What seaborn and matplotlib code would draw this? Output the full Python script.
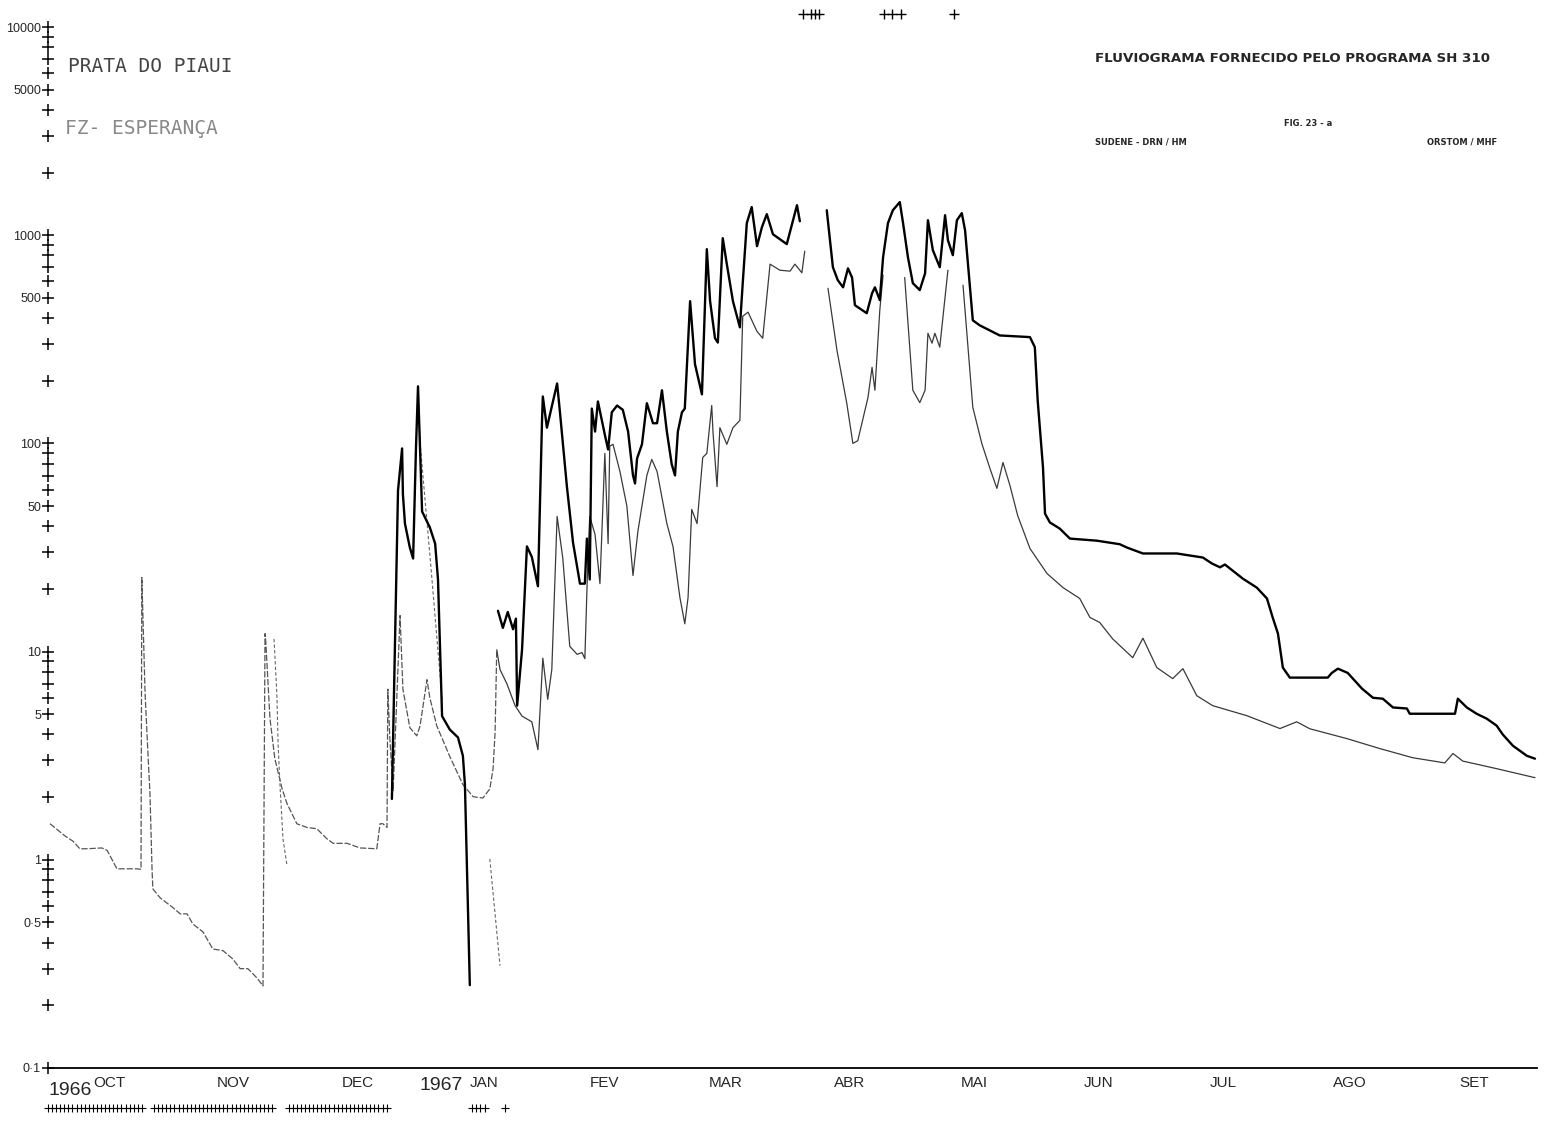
import numpy as np
import pandas as pd
import matplotlib
matplotlib.use('Agg')
import matplotlib.pyplot as plt
import matplotlib.transforms as mtransforms
from matplotlib.ticker import NullLocator
import seaborn as sns

# water year oct 1966 - sep 1967, x = day of the water year
months = ['OCT', 'NOV', 'DEC', 'JAN', 'FEV', 'MAR', 'ABR', 'MAI', 'JUN', 'JUL', 'AGO', 'SET']
month_len = [31, 30, 31, 31, 28, 31, 30, 31, 30, 31, 31, 30]

nan = np.nan

# upper (thick) curve, discharge m3/s, nan = break in the record
upper_day = [84.3, 85.8, 86.8, 87.0, 87.5, 88.7, 89.5, 90.2, 90.7, 91.7, 93.6, 94.9, 95.6, 96.6,
             98.5, 100.5, 101.7, 102.2, 103.4, nan,
             110.3, 111.5, 112.7, 114.0, 114.7, 115.0, 116.2, 117.4, 118.6, 120.1, 121.1, 121.3,
             122.3, 124.8, 125.5, 127.2, 128.7, 130.4, 131.6, 132.1, 132.8, 133.3, 134.1, 134.8,
             136.5, 137.3, 138.2, 139.5, 140.9, 142.2, 143.4, 143.9, 144.4, 145.6, 146.8, 148.3,
             149.3, 150.5, 151.7, 152.9, 153.7, 154.4, 155.4, 156.1, 157.4, 158.6, 160.3, 161.5,
             162.3, 163.5, 164.2, 165.4, 166.4, 167.9, 169.6, 170.3, 171.3, 172.5, 173.8, 175.0,
             176.2, 177.7, 181.1, 183.6, 184.3, nan,
             190.9, 192.4, 193.6, 194.9, 196.1, 197.1, 197.8, 200.7, 202.0, 202.7, 203.9, 204.7,
             205.9, 207.1, 208.8, 209.6, 210.8, 212.0, 213.7, 215.0, 215.7, 216.9, 218.6, 219.9,
             220.6, 221.8, 222.8, 224.0, 224.8, 226.7, 228.4, 233.3, 240.7, 241.9, 242.6, 243.9,
             244.4, 245.6, 248.0, 250.5, 257.1, 262.7, 264.5, 268.4, 276.7, 283.1, 285.3, 287.3,
             288.5, 289.7, 292.9, 296.3, 298.8, 300.2, 301.5, 302.7, 304.4, 313.7, 314.7, 316.2,
             318.6, 322.1, 324.8, 327.2, 329.7, 333.1, 333.8, 344.9, 345.6, 347.8, 350.2, 352.7,
             355.1, 356.6, 359.1, 362.5, 364.5]
upper_q = [1.96, 59.4, 94.6, 56.9, 41.2, 31.6, 28.0, 94.6, 188, 47.1, 39.5, 33.0, 22.2, 4.9,
           4.22, 3.87, 3.16, 2.30, 0.25, nan,
           15.7, 13.0, 15.5, 12.8, 14.4, 5.5, 10.2, 32, 28.5, 20.6, 129, 168,
           119, 194, 141, 62, 33.4, 21.2, 21.2, 34.9, 22.2, 147, 114, 159,
           110, 93.5, 141, 152, 145, 114, 70.2, 64.2, 84.7, 99, 156, 125,
           125, 180, 114, 79.3, 70.2, 114, 141, 147, 482, 240, 172, 857,
           482, 320, 305, 968, 726, 482, 361, 588, 1143, 1365, 886, 1092,
           1262, 1011, 906, 1393, 1167, nan,
           1318, 702, 608, 562, 693, 626, 461, 422, 526, 562, 488, 783,
           1143, 1318, 1442, 1143, 783, 588, 545, 656, 1180, 848, 702, 1247,
           946, 802, 1180, 1276, 1057, 390, 369, 330, 324, 290, 161, 76.8,
           46, 41.7, 39.0, 34.9, 34.1, 32.8, 31.6, 29.6, 29.6, 28.3, 26.5, 25.4,
           26.2, 25.1, 22.4, 20.3, 18.0, 14.6, 12.2, 8.38, 7.5, 7.5, 7.9, 8.28,
           7.9, 6.64, 6.0, 5.94, 5.39, 5.33, 5.03, 5.03, 5.94, 5.39, 5.03, 4.76,
           4.41, 4.0, 3.53, 3.16, 3.06]

# lower (thin) curve
lower_day = [0.5, 4.2, 6.1, 7.8, 9.6, 13.2, 14.5, 16.9, 21.8, 22.8, 23.0, 23.8, 24.5, 25.0,
             25.5, 25.7, 27.5, 30.6, 32.4, 34.1, 35.5, 38.0, 40.4, 42.9, 45.3, 47.1, 49.0,
             51.2, 52.7, 53.2, 53.4, 54.4, 55.6, 57.4, 58.6, 61.0, 63.5, 65.9, 68.4, 69.9,
             73.3, 76.5, 80.6, 81.4, 82.1, 83.1, 83.3, 83.8, 84.6, 86.3, 87.0, 88.7, 90.4,
             91.2, 92.9, 93.6, 95.3, 98.5, 101.7, 104.2, 106.6, 108.3, 109.1, 109.6, 110.0,
             110.8, 112.5, 114.5, 116.2, 118.6, 120.1, 121.3, 122.5, 123.5, 124.8, 126.2,
             127.9, 129.7, 130.9, 131.6, 132.4, 132.8, 134.1, 135.3, 136.5, 137.3, 137.7,
             138.5, 140.2, 141.9, 143.4, 144.6, 146.8, 148.0, 149.3, 151.7, 153.2, 154.9,
             156.1, 156.9, 157.8, 159.1, 160.5, 161.5, 162.7, 163.0, 164.0, 164.7, 166.4,
             167.9, 169.6, 170.3, 171.6, 173.8, 175.2, 177.0, 179.4, 181.9, 183.1, 184.8,
             185.5, nan,
             191.2, 193.4, 195.8, 197.3, 198.5, 201.0, 202.0, 202.7, 203.9, 204.7, nan,
             210.0, 212.0, 213.7, 215.0, 215.7, 216.7, 217.4, 218.6, 220.6, nan,
             224.3, 226.7, 228.9, 230.9, 232.6, 234.1, 235.8, 237.7, 239.5, 240.7, 244.9,
             248.8, 252.9, 255.4, 257.8, 261.0, 265.9, 268.4, 271.8, 275.7, 278.2, 281.6,
             285.5, 293.9, 302.0, 306.1, 309.3, 318.4, 326.5, 334.6, 342.4, 344.4, 346.8,
             355.1, 364.5]
lower_q = [1.49, 1.30, 1.23, 1.13, 1.13, 1.14, 1.11, 0.905, 0.905, 0.90, 22.7, 6.28, 3.24, 2.07,
           0.905, 0.725, 0.656, 0.59, 0.55, 0.55, 0.492, 0.45, 0.373, 0.366, 0.334, 0.30, 0.30,
           0.271, 0.248, 12.2, 11.0, 4.8, 3.06, 2.19, 1.86, 1.49, 1.43, 1.41, 1.26, 1.20,
           1.20, 1.14, 1.13, 1.49, 1.49, 1.43, 6.6, 3.82, 2.15, 14.9, 6.6, 4.31, 3.94,
           4.4, 7.33, 6.0, 4.4, 3.13, 2.30, 2.01, 1.98, 2.19, 2.74, 4.12, 10.2,
           8.2, 7.0, 5.5, 4.9, 4.6, 3.38, 9.3, 5.9, 8.2, 44.6, 28.0,
           10.6, 9.7, 9.9, 9.25, 30.3, 44.6, 36.5, 21.2, 89.5, 33, 97,
           99, 73.3, 50, 23.2, 37.8, 70.2, 83.8, 73.3, 41.2, 32, 18.2,
           13.6, 18.2, 48.2, 41.2, 85.7, 89.5, 152, 114, 62, 119, 99,
           119, 129, 408, 427, 345, 320, 726, 679, 672, 726, 660,
           838, nan,
           556, 280, 156, 100, 103, 166, 232, 180, 436, 643, nan,
           626, 180, 157, 180, 338, 303, 338, 290, 679, nan,
           575, 149, 100, 75.8, 60.8, 81, 62.8, 45, 36.2, 31.3, 23.7,
           20.3, 18.0, 14.6, 13.8, 11.5, 9.35, 11.6, 8.38, 7.42, 8.28, 6.14,
           5.5, 4.92, 4.27, 4.6, 4.26, 3.82, 3.42, 3.09, 2.92, 3.24, 2.98,
           2.74, 2.48]

# loose pen traces
frag_day = [55.4, 56.1, 56.4, 56.9, 57.6, 58.6, nan, 90.7, 91.2, 93.9, 96.6, nan, 108.3, 110.8]
frag_q = [11.5, 6.28, 3.61, 2.22, 1.26, 0.935, nan, 188, 101, 25, 5.9, nan, 1.01, 0.31]

# plotter marks below the axis and above the frame
flag_bottom = list(range(0, 24)) + list(range(26, 56)) + list(range(59, 84)) + [104, 105, 106, 107, 112]
flag_top = [185, 187, 188, 189, 205, 207, 209, 222]

ytick_vals = [0.1, 0.5, 1, 5, 10, 50, 100, 500, 1000, 5000, 10000]
ytick_text = ['0·1', '0·5', '1', '5', '10', '50', '100', '500', '1000', '5000', '10000']


def to_frame(day, q):
    df = pd.DataFrame({'day': day, 'q': q})
    df['seg'] = df['q'].isna().cumsum()
    return df.dropna()


upper = to_frame(upper_day, upper_q)
lower = to_frame(lower_day, lower_q)
frag = to_frame(frag_day, frag_q)

sns.set_style('white')
plt.rcParams['font.family'] = ['Liberation Sans', 'DejaVu Sans']

W, H = 1551, 1125
fig = plt.figure(figsize=(W / 100, H / 100), dpi=100)
ax = fig.add_axes([48 / W, (H - 1068) / H, (1537 - 48) / W, (1068 - 27) / H])
ax.set_yscale('log')

early = lower[lower['day'] <= 110]
late = lower[lower['day'] >= 110]
sns.lineplot(data=early, x='day', y='q', units='seg', estimator=None, sort=False,
             color='#555555', lw=0.9, ax=ax)
ax.lines[-1].set_dashes([5, 1.5])
sns.lineplot(data=late, x='day', y='q', units='seg', estimator=None, sort=False,
             color='#3a3a3a', lw=0.9, ax=ax)
sns.lineplot(data=frag, x='day', y='q', units='seg', estimator=None, sort=False,
             color='#666666', lw=0.8, ax=ax)
for ln in ax.lines[-3:]:
    ln.set_dashes([3, 2])
sns.lineplot(data=upper, x='day', y='q', units='seg', estimator=None, sort=False,
             color='black', lw=1.7, ax=ax)

ax.set_xlim(0, 365)
ax.set_ylim(0.1, 10000)
ax.set_xlabel('')
ax.set_ylabel('')

# y axis drawn as a column of plotter crosses
cross_vals = [m * 10.0 ** k for k in range(-1, 4) for m in range(1, 10)] + [10000]
ax.scatter(np.zeros(len(cross_vals)), cross_vals, marker='+', s=70, c='black',
           linewidths=1.1, clip_on=False, zorder=6)
ax.set_yticks(ytick_vals, ytick_text)
ax.yaxis.set_minor_locator(NullLocator())
ax.tick_params(axis='y', length=0, pad=5, labelsize=9)

# x ticks every 10 days, double at month ends
starts = np.concatenate([[0], np.cumsum(month_len)])
ticks = []
for s, n in zip(starts[:-1], month_len):
    ticks += [s, s + 10, s + 20, s + n - 1]
ticks.append(365)
ax.set_xticks(ticks)
ax.xaxis.set_minor_locator(NullLocator())
ax.tick_params(axis='x', direction='inout', length=10, width=1.0, labelbottom=False)

for side in ['left', 'top', 'right']:
    ax.spines[side].set_visible(False)
ax.spines['bottom'].set_linewidth(1.3)
ax.spines['bottom'].set_color('black')

trans = mtransforms.blended_transform_factory(ax.transData, ax.transAxes)
for s, n, name in zip(starts[:-1], month_len, months):
    ax.text(s + n / 2 - 0.5, -0.014, name, transform=trans, ha='center', va='center',
            fontsize=11)
ax.text(5.5, -0.022, '1966', transform=trans, ha='center', va='center', fontsize=14)
ax.text(96.5, -0.017, '1967', transform=trans, ha='center', va='center', fontsize=14)

ax.scatter(flag_bottom, np.full(len(flag_bottom), -0.038), marker='+', s=40, c='black',
           linewidths=0.8, transform=trans, clip_on=False)
ax.scatter(flag_top, np.full(len(flag_top), 1.0125), marker='+', s=60, c='black',
           linewidths=1.0, transform=trans, clip_on=False)

# station names and plot header
fig.text(68 / W, 1 - 66 / H, 'PRATA DO PIAUI', fontsize=14, color='#444444',
         family='DejaVu Sans Mono', va='center', ha='left')
fig.text(65 / W, 1 - 128 / H, 'FZ- ESPERANÇA', fontsize=14, color='#888888',
         family='DejaVu Sans Mono', va='center', ha='left')
fig.text(1095 / W, 1 - 58 / H, 'FLUVIOGRAMA FORNECIDO PELO PROGRAMA SH 310', fontsize=9.6,
         weight='bold', family='DejaVu Sans', va='center', ha='left')
fig.text(1308 / W, 1 - 124 / H, 'FIG. 23 - a', fontsize=6, weight='bold',
         family='DejaVu Sans', va='center', ha='center')
fig.text(1095 / W, 1 - 142 / H, 'SUDENE - DRN / HM', fontsize=6, weight='bold',
         family='DejaVu Sans', va='center', ha='left')
fig.text(1497 / W, 1 - 142 / H, 'ORSTOM / MHF', fontsize=6, weight='bold',
         family='DejaVu Sans', va='center', ha='right')

fig.savefig('out.png', dpi=100, facecolor='white')
plt.close(fig)
